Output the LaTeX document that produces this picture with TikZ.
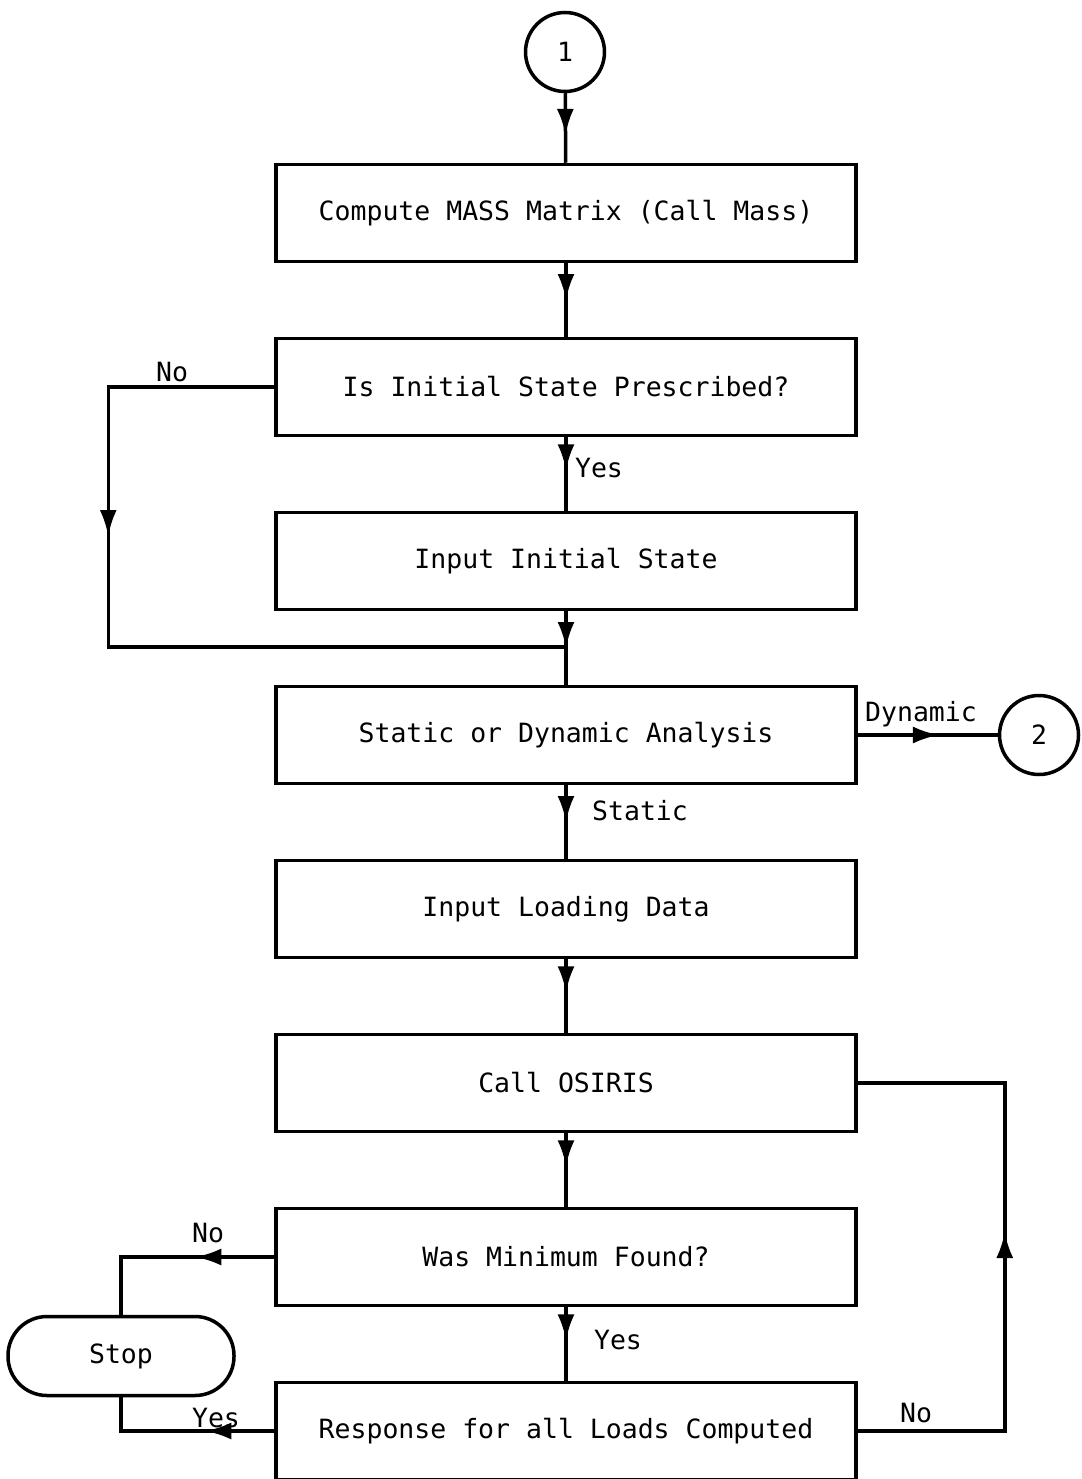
\documentclass[tikz,border=0pt]{standalone}
\usepackage{fontspec}
\setmonofont{DejaVu Sans Mono}
\usetikzlibrary{arrows.meta, positioning, decorations.markings}

\begin{document}
\begin{tikzpicture}[
    x=1pt, y=-1pt,
    node distance=73.5pt,
    line width=3.5pt,
    font=\ttfamily\fontsize{26.5}{30}\selectfont,
    every node/.style={inner sep=0pt},
    box/.style={draw, minimum width=580pt, minimum height=97pt},
    conn/.style={circle, draw, minimum size=79pt},
    stopbox/.style={draw, rounded corners=39pt, minimum width=226pt, minimum height=79pt},
    tip/.style={postaction=decorate, decoration={markings,
        mark=at position #1 with {\arrow{Latex[length=26pt,width=17pt]}}}}
]
\useasboundingbox (0,0) rectangle (1081,1479);

\node[conn] (one) at (565,52) {1};
\node[box] (mass) at (566,213) {Compute MASS Matrix (Call Mass)};
\node[box, below=of mass] (init) {Is Initial State Prescribed?};
\node[box, below=of init] (initin) {Input Initial State};
\node[box, below=of initin] (dyn) {Static or Dynamic Analysis};
\node[box, below=of dyn] (load) {Input Loading Data};
\node[box, below=of load] (osiris) {Call OSIRIS};
\node[box, below=of osiris] (found) {Was Minimum Found?};
\node[box, below=of found] (resp) {Response for all Loads Computed};

\node[conn, right=140pt of dyn] (two) {2};
\node[stopbox] (stop) at (121,1356) {Stop};

\coordinate (join) at (566,647);

% main line
\draw[tip=0.6] (one) -- (mass);
\draw[tip=0.5] (mass) -- (init);
\draw[tip=0.45] (init) -- (initin);
\draw[tip=0.5] (initin) -- (dyn);
\draw[tip=0.5] (dyn) -- (load);
\draw[tip=0.45] (load) -- (osiris);
\draw[tip=0.45] (osiris) -- (found);
\draw[tip=0.45] (found) -- (resp);

% branches
\draw[tip=315pt] (init.west) -- ++(-166,0) |- (join);
\draw[tip=0.58] (dyn) -- (two);
\draw[tip=79pt] (found.west) -| (stop.north);
\draw[tip=69pt] (resp.west) -| (stop.south);
\draw[tip=346pt] (resp.east) -- ++(147,0) |- (osiris.east);

% labels
\node (noinit) at (172,372) {No};
\node (yesinit) at (599,468) {Yes};
\node (dynlbl) at (921,714) {Dynamic};
\node (statlbl) at (640,811) {Static};
\node (nofound) at (208,1233) {No};
\node (yesfound) at (618,1340) {Yes};
\node (yesresp) at (216,1418) {Yes};
\node (noresp) at (916,1413) {No};

\end{tikzpicture}
\end{document}
